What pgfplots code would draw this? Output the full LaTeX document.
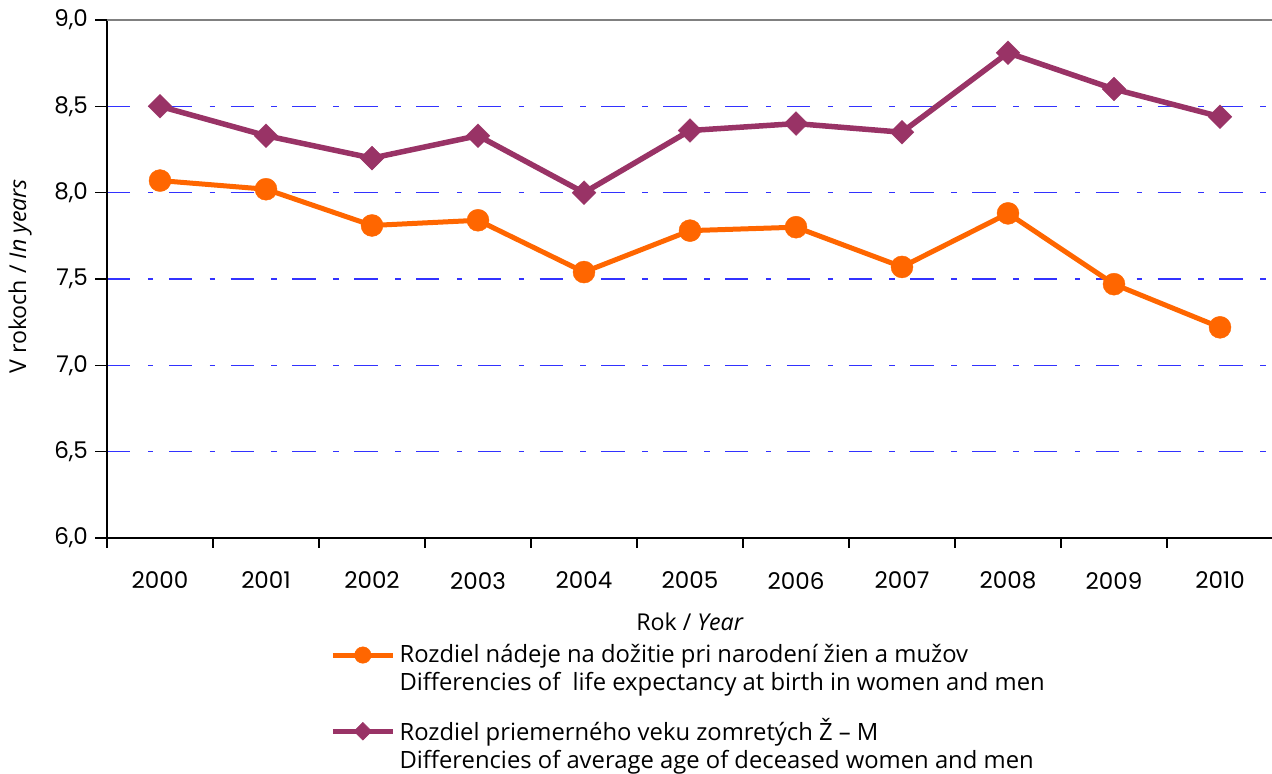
\documentclass[border=0pt]{standalone}
\usepackage{fontspec}
\setmainfont{Open Sans}
\newfontfamily\numfont{Poppins}
\usepackage{pgfplots}
\pgfplotsset{compat=1.18}
\definecolor{cOrange}{HTML}{FF6600}
\definecolor{cPurple}{HTML}{993366}
\definecolor{cGrid}{RGB}{50,50,255}
\begin{document}
\begin{tikzpicture}
\begin{axis}[
  at={(0,0)}, anchor=south west,
  scale only axis, width=583pt, height=259pt,
  xmin=-0.5, xmax=10.5, ymin=6, ymax=9,
  axis x line*=bottom, axis y line*=left,
  axis line style={black, line width=0.8pt},
  xtick={0,...,10},
  xticklabels={2000,2001,2002,2003,2004,2005,2006,2007,2008,2009,2010},
  minor xtick={-0.5,0.5,...,10.5},
  ytick={6,6.5,...,9},
  tick align=outside,
  major tick length=6pt, minor tick length=5pt,
  major x tick style={draw=none},
  minor x tick style={black, line width=0.6pt},
  major y tick style={black, line width=0.6pt},
  ymajorgrids,
  major grid style={cGrid, line width=0.6pt, dash pattern=on 11.7pt off 8.7pt on 2.8pt off 7.7pt},
  yticklabel style={/pgf/number format/.cd, use comma, fixed, fixed zerofill, precision=1},
  /pgf/number format/assume math mode=true,
  tick label style={font=\numfont\fontsize{11.5}{13}\selectfont},
  xticklabel style={yshift=-7.5pt},
  xlabel={Rok / \textit{Year}},
  ylabel={V rokoch / \textit{In years}},
  label style={font=\fontsize{11.6}{14}\selectfont},
  xlabel style={at={(axis description cs:0.5,-0.162)}, anchor=center},
  ylabel style={at={(axis description cs:-0.0746,0.505)}, anchor=center},
  legend style={at={(axis description cs:0.191,-0.197)}, anchor=north west,
    draw=none, fill=none, row sep=8.5pt, inner sep=0pt,
    font=\fontsize{11.9}{14}\selectfont, cells={align=left}},
  legend cell align=left,
  legend image code/.code={\draw[mark repeat=2,mark phase=2,#1,every mark/.append style={scale=0.75}] plot coordinates {(0pt,7pt)(15pt,7pt)(30pt,7pt)};},
  extra description/.code={\draw[gray, line width=1pt] (axis description cs:0,1) -- (axis description cs:1,1);},
]
\addplot[cOrange, line width=2.5pt, mark=*, mark size=5.5pt, mark options={solid, line width=0.2pt}]
  coordinates {(0,8.07) (1,8.02) (2,7.81) (3,7.84) (4,7.54) (5,7.78) (6,7.80) (7,7.57) (8,7.88) (9,7.47) (10,7.22)};
\addlegendentry{Rozdiel nádeje na dožitie pri narodení žien a mužov\\Differencies of\ \ life expectancy at birth in women and men}
\addplot[cPurple, line width=2.75pt, mark=square*, mark size=4.2pt, mark options={solid, rotate=45, line width=0.2pt}]
  coordinates {(0,8.50) (1,8.33) (2,8.20) (3,8.33) (4,8.00) (5,8.36) (6,8.40) (7,8.35) (8,8.81) (9,8.60) (10,8.44)};
\addlegendentry{Rozdiel priemerného veku zomretých Ž – M\\Differencies of average age of deceased women and men}
\end{axis}
\pgfresetboundingbox
\useasboundingbox (-53.5pt,-118pt) rectangle (582.5pt,269pt);
\end{tikzpicture}
\end{document}
